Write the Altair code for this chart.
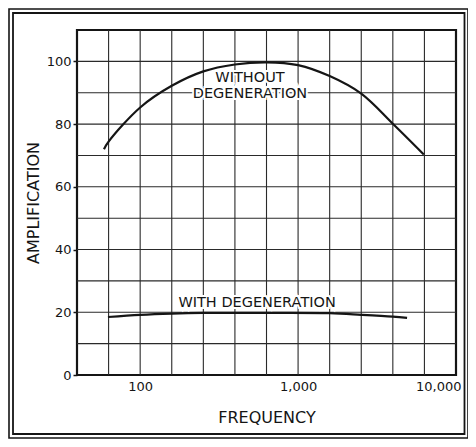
import altair as alt
import pandas as pd

# --- data ---
without_freq = [59, 63.1, 100, 158.5, 251.2, 398.1, 631, 1000, 1585, 2512, 3981, 6250]
without_amp = [72.0, 74.4, 85.3, 92.2, 96.8, 99.0, 99.7, 98.8, 95.3, 89.7, 80.1, 70.3]

with_freq = [62.5, 100, 158.5, 251.2, 631, 1585, 2512, 3981, 4900]
with_amp = [18.5, 19.2, 19.6, 19.8, 19.8, 19.7, 19.2, 18.6, 18.2]

grid_freq = [63.10, 100, 158.5, 251.2, 398.1, 631.0, 1000, 1585, 2512, 3981, 6310]
grid_amp = [10, 20, 30, 40, 50, 60, 70, 80, 90, 100]

x_labels = [100, 1000, 10000]
y_labels = [0, 20, 40, 60, 80, 100]

note_text = ["WITHOUT", "DEGENERATION", "WITH DEGENERATION"]
note_freq = [496, 496, 550]
note_amp = [94.8, 89.7, 23.0]

X_DOMAIN = [39.81, 10000]
Y_DOMAIN = [0, 110]
W, H = 379, 345
FONT = "DejaVu Sans"
INK = "#151515"

curves = pd.DataFrame(
    {"freq": without_freq + with_freq,
     "amp": without_amp + with_amp,
     "series": ["without"] * len(without_freq) + ["with"] * len(with_freq)}
)
notes = pd.DataFrame({"freq": note_freq, "amp": note_amp, "text": note_text})
vgrid = pd.DataFrame({"freq": grid_freq})
hgrid = pd.DataFrame({"amp": grid_amp})

xscale = alt.Scale(type="log", domain=X_DOMAIN, nice=False)
yscale = alt.Scale(domain=Y_DOMAIN, nice=False, zero=False)

xaxis = alt.Axis(values=x_labels, format=",", ticks=False, domain=False, grid=False,
                 labelPadding=5, labelFlush=True, labelFlushOffset=5,
                 titlePadding=16)
yaxis = alt.Axis(values=y_labels, tickSize=4, tickColor=INK, tickWidth=1.5,
                 domain=False, grid=False, labelPadding=2, titlePadding=5)

X = alt.X("freq:Q", scale=xscale, axis=xaxis, title="FREQUENCY")
Y = alt.Y("amp:Q", scale=yscale, axis=yaxis, title="AMPLIFICATION")

vlines = alt.Chart(vgrid).mark_rule(color="#2a2a2a", strokeWidth=1.1).encode(x=X)
hlines = alt.Chart(hgrid).mark_rule(color="#2a2a2a", strokeWidth=1.1).encode(y=Y)

lines = alt.Chart(curves).mark_line(color=INK, strokeWidth=2.2, interpolate="catmull-rom").encode(
    x=X, y=Y, detail="series:N",
)

halo = alt.Chart(notes).mark_text(
    font=FONT, fontSize=14.5, stroke="white", strokeWidth=4, fill="white",
    align="center", baseline="middle",
).encode(x=X, y=Y, text="text:N")
texts = alt.Chart(notes).mark_text(
    font=FONT, fontSize=14.5, color=INK, align="center", baseline="middle",
).encode(x=X, y=Y, text="text:N")

# decorative double frame round the whole figure
frame_outer = alt.Chart(pd.DataFrame({"k": [0]})).mark_rect(
    fill=None, stroke=INK, strokeWidth=1.6
).encode(x=alt.value(-68), x2=alt.value(W + 12), y=alt.value(-21), y2=alt.value(H + 63))
frame_inner = alt.Chart(pd.DataFrame({"k": [0]})).mark_rect(
    fill=None, stroke=INK, strokeWidth=1.8
).encode(x=alt.value(-64), x2=alt.value(W + 8.5), y=alt.value(-17), y2=alt.value(H + 59))

chart = alt.layer(
    vlines, hlines, halo, texts, lines, frame_outer, frame_inner
).properties(
    width=W, height=H,
    autosize=alt.AutoSizeParams(type="none"),
    padding={"left": 69, "top": 22, "right": 12, "bottom": 64},
    background="white",
).configure_view(
    stroke=INK, strokeWidth=2.2
).configure_axis(
    labelFont=FONT, labelFontSize=13, labelColor=INK,
    titleFont=FONT, titleFontSize=16, titleFontWeight="normal", titleColor=INK,
)

chart.save("out.html", embed_options={"renderer": "svg", "actions": False})
